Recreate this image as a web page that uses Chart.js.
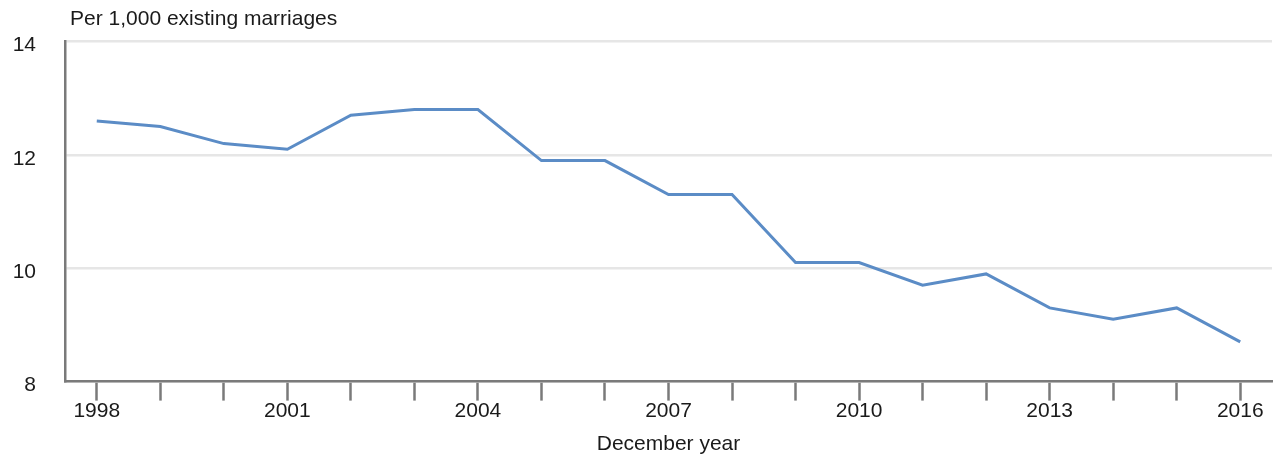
<!DOCTYPE html>
<html>
<head>
<meta charset="utf-8">
<script src="https://cdn.jsdelivr.net/npm/chart.js@4"></script>
<style>
html,body{margin:0;padding:0;background:#fff;}
#wrap{width:1275px;height:459px;}
</style>
</head>
<body>
<div id="wrap"><canvas id="c" width="1275" height="459"></canvas></div>
<script>
const years = ['1998','1999','2000','2001','2002','2003','2004','2005','2006','2007','2008','2009','2010','2011','2012','2013','2014','2015','2016'];
const divorceRate = [12.6,12.5,12.2,12.1,12.7,12.8,12.8,11.9,11.9,11.3,11.3,10.1,10.1,9.7,9.9,9.3,9.1,9.3,8.7];
const yTicks = [8,10,12,14];
const unitLabel = 'Per 1,000 existing marriages';
const xTitle = 'December year';

const FONT = 'Arial, "Liberation Sans", sans-serif';

const unitPlugin = {
  id: 'unitLabel',
  afterDraw(chart) {
    const ctx = chart.ctx;
    ctx.save();
    ctx.font = '21px ' + FONT;
    ctx.fillStyle = '#1a1a1a';
    ctx.textAlign = 'left';
    ctx.textBaseline = 'middle';
    ctx.fillText(unitLabel, chart.chartArea.left + 5, 19);
    ctx.restore();
  }
};

new Chart(document.getElementById('c'), {
  type: 'line',
  data: {
    labels: years,
    datasets: [{
      data: divorceRate,
      borderColor: '#5b8cc6',
      borderWidth: 3,
      pointRadius: 0,
      tension: 0,
      fill: false
    }]
  },
  options: {
    responsive: false,
    animation: false,
    devicePixelRatio: 1,
    layout: { padding: { top: 39, right: 3, bottom: 2, left: 0 } },
    plugins: { legend: { display: false }, tooltip: { enabled: false } },
    scales: {
      x: {
        offset: true,
        border: { color: '#7a7a7a', width: 2.5 },
        grid: { drawOnChartArea: false, drawTicks: true, tickLength: 19, tickWidth: 2.5, tickColor: '#7a7a7a', offset: false },
        ticks: {
          autoSkip: false,
          maxRotation: 0,
          padding: -2,
          color: '#1a1a1a',
          font: { family: FONT, size: 21 },
          callback: function(v, i) { return (i % 3 === 0) ? years[i] : ''; }
        },
        title: { display: true, text: xTitle, color: '#1a1a1a', font: { family: FONT, size: 21 }, padding: { top: 10, bottom: 0 } }
      },
      y: {
        min: 8, max: 14,
        afterBuildTicks: function(scale) { scale.ticks = yTicks.map(v => ({ value: v })); },
        afterFit: function(scale) { scale.width = 65; },
        border: { color: '#7a7a7a', width: 2.5 },
        grid: { color: '#e6e6e6', lineWidth: 2.5, drawTicks: false },
        ticks: {
          padding: 29,
          labelOffset: 4,
          color: '#1a1a1a',
          crossAlign: 'near',
          font: { family: FONT, size: 21 }
        }
      }
    }
  },
  plugins: [unitPlugin]
});
</script>
</body>
</html>
